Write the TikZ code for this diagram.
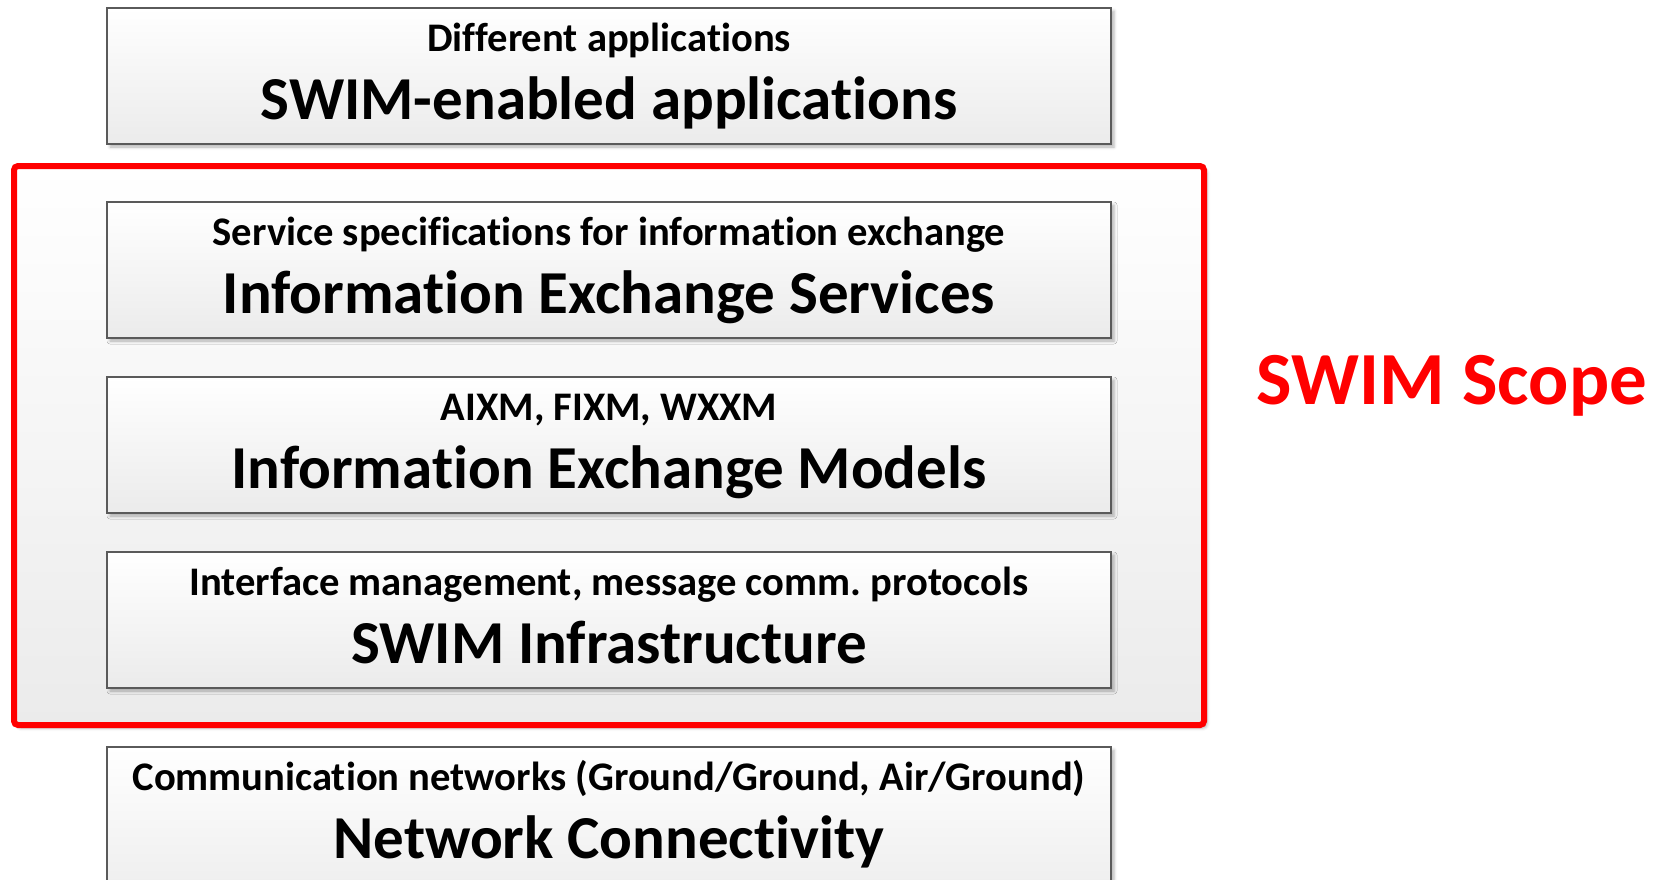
\documentclass[tikz,border=0pt]{standalone}
\usepackage{fontspec}
\setmainfont[Ligatures=NoCommon]{Carlito}
\usetikzlibrary{shadows.blur,calc}
\definecolor{boxline}{HTML}{5A5A5A}
\definecolor{boxbot}{HTML}{EBEBEB}
\definecolor{scopered}{HTML}{FF0000}
\frenchspacing
\begin{document}
\begin{tikzpicture}[x=1pt,y=-1pt,
  softshadow/.style={blur shadow={shadow xshift=3pt, shadow yshift=-3pt,
      shadow blur radius=3pt, shadow opacity=30}},
  layerbox/.style={draw=boxline, line width=2pt, top color=white, bottom color=boxbot,
      minimum width=1004pt, minimum height=136pt, anchor=north west,
      inner sep=0pt, outer sep=0pt, softshadow},
  subtext/.style={font=\bfseries\fontsize{40.6}{48}\selectfont, anchor=base, inner sep=0pt},
  titletext/.style={font=\bfseries\fontsize{61}{72}\selectfont, anchor=base, inner sep=0pt},
]
\useasboundingbox (0,0) rectangle (1659,879);
\clip (0,0) rectangle (1659,879);

% SWIM scope frame
\node[draw=scopered, line width=6pt, rounded corners=4pt, top color=white,
      bottom color=boxbot, minimum width=1190pt, minimum height=559pt,
      anchor=north west, inner sep=0pt, outer sep=0pt, softshadow] (scope) at (14,166) {};
\node[font=\bfseries\fontsize{75}{90}\selectfont, text=scopered, anchor=base,
      inner sep=0pt] (scopelabel) at (1452,404) {SWIM Scope};

% Layers
\node[layerbox] (apps) at (107,8) {};
\node[subtext]   (appsS) at ($(apps.north)+(0,43)$) {Different applications};
\node[titletext] (appsT) at ($(apps.north)+(0,111)$) {SWIM-enabled applications};

\node[layerbox] (ies) at (107,202) {};
\node[subtext]   (iesS) at ($(ies.north)+(0,43)$) {Service specifications for information exchange};
\node[titletext] (iesT) at ($(ies.north)+(0,111)$) {Information Exchange Services};

\node[layerbox] (iem) at (107,377) {};
\node[subtext]   (iemS) at ($(iem.north)+(0,43)$) {AIXM, FIXM, WXXM};
\node[titletext] (iemT) at ($(iem.north)+(0,111)$) {Information Exchange Models};

\node[layerbox] (infra) at (107,552) {};
\node[subtext]   (infraS) at ($(infra.north)+(0,43)$) {Interface management, message comm. protocols};
\node[titletext] (infraT) at ($(infra.north)+(0,111)$) {SWIM Infrastructure};

\node[layerbox, minimum height=170pt] (net) at (107,747) {};
\node[subtext]   (netS) at ($(net.north)+(0,43)$) {Communication networks (Ground/Ground, Air/Ground)};
\node[titletext] (netT) at ($(net.north)+(0,111)$) {Network Connectivity};
\end{tikzpicture}
\end{document}
